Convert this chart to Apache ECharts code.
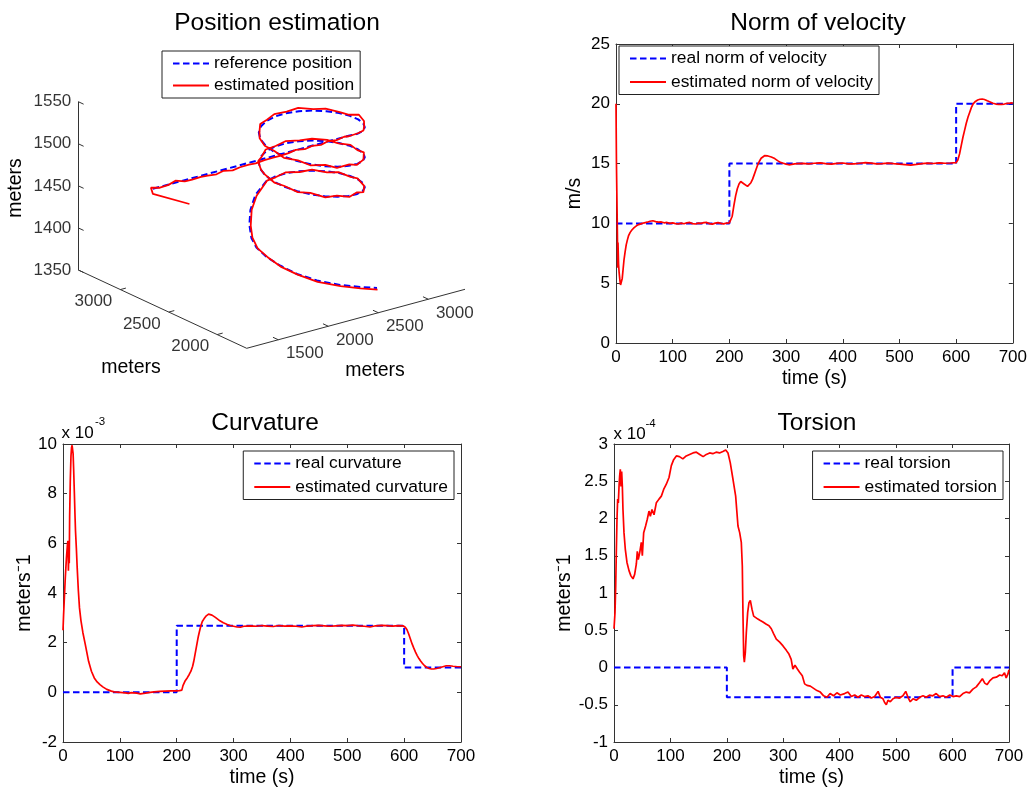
<!DOCTYPE html>
<html><head><meta charset="utf-8">
<script src="https://cdn.jsdelivr.net/npm/echarts@6/dist/echarts.min.js"></script>
<style>html,body{margin:0;padding:0;background:#fff}#c{width:1030px;height:789px}</style>
</head><body><div id="c"></div>
<script>
// ---------------- DATA ----------------
// 3D trajectory (x, y, z in meters)
const refPosition = [
 [1026,2501,1501.6],[2984,2501,1501.6],
 [3082.6,2514,1500.1],[3174.5,2552,1498.6],[3253.4,2612.6,1497.1],[3314,2691.5,1495.6],[3352,2783.4,1494.2],
 [3365,2882,1492.7],[3352,2980.6,1491.2],[3314,3072.5,1489.7],[3253.4,3151.4,1488.2],[3174.5,3212,1486.7],[3082.6,3250,1485.2],
 [2984,3263,1483.8],[2885.4,3250,1482.3],[2793.5,3212,1480.8],[2714.6,3151.4,1479.3],[2654,3072.5,1477.8],[2616,2980.6,1476.3],
 [2603,2882,1474.8],[2616,2783.4,1473.4],[2654,2691.5,1471.9],[2714.6,2612.6,1470.4],[2793.5,2552,1468.9],[2885.4,2514,1467.4],
 [2984,2501,1465.9],[3082.6,2514,1464.4],[3174.5,2552,1462.9],[3253.4,2612.6,1461.5],[3314,2691.5,1460.0],[3352,2783.4,1458.5],
 [3365,2882,1457.0],[3352,2980.6,1455.5],[3314,3072.5,1454.0],[3253.4,3151.4,1452.5],[3174.5,3212,1451.0],[3082.6,3250,1449.6],
 [2984,3263,1448.1],[2885.4,3250,1446.6],[2793.5,3212,1445.1],[2714.6,3151.4,1443.6],[2654,3072.5,1442.1],[2616,2980.6,1440.6],
 [2603,2882,1439.1],[2616,2783.4,1437.7],[2654,2691.5,1436.2],[2714.6,2612.6,1434.7],[2793.5,2552,1433.2],[2885.4,2514,1431.7],
 [2984,2501,1430.2],[3082.6,2514,1428.7],[3174.5,2552,1427.2],[3253.4,2612.6,1425.8],[3314,2691.5,1424.3],[3352,2783.4,1422.8],
 [3365,2882,1421.3],[3352,2980.6,1419.8],[3314,3072.5,1418.3],[3253.4,3151.4,1416.8],[3174.5,3212,1415.3],[3082.6,3250,1413.9],
 [2984,3263,1412.4],[2885.4,3250,1410.9],
 [2658.3,3128.7,1408.2],[2453.7,2968.8,1405.5],[2274.2,2793.5,1402.8],[2141.0,2635.1,1400.1],[2074.3,2514.4,1397.4],[2039.3,2374.7,1394.7],
 [2040.1,2236.0,1392.0],[2063.0,2083.8,1389.3],[2132.1,1948.4,1386.6],[2247.2,1829.7,1383.9],[2377.6,1757.7,1381.2],[2502.4,1711.0,1378.5]
];
const estPosition = [
 [1125,2225.5,1495],[973,2446,1500],[1019,2514,1502.3],
 [1100,2505,1500.2],[1180,2498,1501.4],[1260,2510,1503.2],[1340,2496,1500.6],[1420,2503,1499.7],[1500,2494,1500.9],
 [1580,2506,1499.0],[1660,2499,1498.5],[1740,2508,1499.6],[1820,2497,1498.1],[1900,2504,1498.9],[1980,2495,1499.8],
 [2060,2507,1498.3],[2140,2500,1499.9],[2220,2493,1500.5],[2300,2505,1499.4],[2380,2498,1500.6],[2460,2507,1501.4],
 [2540,2496,1500.2],[2620,2503,1501.2],[2700,2495,1500.3],[2780,2505,1501.5],[2860,2498,1500.7],[2940,2503,1501.8],[2984,2499,1501.2],
 [3085,2510,1500.9],[3178,2549,1499.2],[3250,2616,1497.8],[3318,2688,1498.4],[3356,2780,1499.8],
 [3360,2885,1494.0],[3355,2977,1492.4],[3310,3076,1492.6],[3257,3148,1490.0],[3170,3215,1490.7],[3086,3247,1487.2],
 [2980,3266,1486.6],[2888,3246,1484.0],[2790,3215,1483.6],[2718,3148,1480.5],[2650,3076,1478.6],[2612,2984,1476.0],
 [2606,2878,1475.5],[2612,2786,1472.2],[2658,2688,1472.9],[2711,2616,1469.2],[2797,2549,1470.4],[2882,2517,1466.0],
 [2987,2498,1467.6],[3079,2517,1463.1],[3178,2549,1464.5],[3250,2616,1460.4],[3317,2688,1461.2],[3348,2787,1457.6],
 [3368,2879,1458.3],[3349,2984,1455.0],[3317,3069,1455.8],[3250,3155,1454.6],[3178,3209,1452.2],[3079,3253,1451.9],
 [2987,3260,1448.8],[2882,3253,1448.4],[2797,3209,1444.6],[2711,3155,1445.0],[2657,3069,1441.4],[2612,2984,1441.9],
 [2606,2879,1438.0],[2612,2787,1438.9],[2657,2688,1435.1],[2711,2616,1436.3],[2797,2549,1431.8],[2882,2517,1433.0],
 [2987,2498,1429.0],[3079,2517,1430.3],[3178,2549,1426.0],[3250,2616,1427.4],[3317,2688,1423.4],[3349,2787,1424.1],
 [3368,2879,1420.2],[3349,2984,1420.9],[3317,3069,1417.1],[3250,3155,1418.0],[3178,3209,1414.5],[3079,3253,1414.8],
 [2987,3260,1411.6],[2888,3246,1411.5],
 [2664,3122,1407.4],[2460,2962,1405.9],[2282,2788,1402.0],[2146,2630,1400.6],[2080,2508,1396.5],[2044,2370,1394.9],
 [2043,2232,1390.8],[2066,2080,1388.6],[2135,1945,1385.1],[2250,1827,1382.6],[2380,1755,1379.6],[2505,1708,1376.6]
];
const posXTicks = [1500, 2000, 2500, 3000];
const posYTicks = [2000, 2500, 3000];
const posZTicks = [1350, 1400, 1450, 1500, 1550];

// Norm of velocity (m/s)
const velReal = [[0,10],[200,10],[200,15],[600,15],[600,20],[700,20]];
const velEst = [
 [0,20],[0.8,15],[1.5,12.5],[2.5,9],[3,6.3],[3.5,8.4],[4.5,6.6],[5.5,5.9],[7,5.2],[8,4.85],[9,4.7],[10,4.85],
 [11,5.4],[12,5.9],[14,6.9],[16,7.6],[18,8.2],[20,8.6],[22,8.95],[25,9.25],[28,9.45],[32,9.65],[36,9.8],[40,9.9],
 [45,9.98],[50,10.05],[55,10.1],[60,10.18],[65,10.22],[70,10.15],[75,10.1],[80,10.12],[85,10.05],[90,10.08],[95,10.0],
 [100,10.04],[105,9.98],[110,9.95],[115,10.02],[120,9.97],[125,10.05],[130,10.08],[135,9.98],[140,9.95],[145,10.02],
 [150,10.0],[155,10.06],[160,10.08],[165,9.98],[170,9.94],[175,10.02],[180,10.06],[185,10.0],[190,9.96],[195,10.03],[200,10.05],
 [202,10.1],[205,10.6],[208,11.5],[211,12.3],[214,12.9],[217,13.3],[220,13.5],[223,13.45],[226,13.3],[229,13.15],[232,13.1],
 [235,13.2],[238,13.4],[241,13.7],[244,14.1],[247,14.5],[250,14.9],[253,15.2],[256,15.45],[259,15.6],[262,15.66],[265,15.68],
 [268,15.64],[271,15.58],[274,15.55],[277,15.5],[280,15.42],[285,15.25],[290,15.1],[295,15.03],[300,14.96],[305,14.9],
 [310,14.93],[315,14.97],[320,15.0],
 [330,15.02],[340,14.97],[350,15.03],[360,15.06],[370,15.0],[380,14.96],[390,15.02],[400,15.05],[410,14.98],[420,14.97],
 [430,15.03],[440,15.08],[450,15.04],[460,14.97],[470,15.0],[480,15.04],[490,14.99],[500,14.95],[510,14.92],[520,14.88],
 [530,14.93],[540,15.0],[550,15.04],[560,15.01],[570,15.06],[580,15.03],[590,15.05],[600,15.08],
 [603,15.3],[606,15.8],[609,16.5],[612,17.2],[615,17.8],[618,18.4],[621,18.9],[624,19.3],[627,19.7],[630,20.0],[634,20.2],
 [638,20.32],[642,20.38],[646,20.4],[650,20.36],[655,20.25],[660,20.15],[665,20.05],[670,19.98],[675,19.95],[680,19.95],
 [685,19.98],[690,20.03],[695,20.05],[700,20.08]
];

// Curvature (x 10^-3 1/m)
const curvReal = [[0,0],[200,0],[200,2.68],[600,2.68],[600,1.0],[700,1.0]];
const curvEst = [
 [0,2.5],[1,3.1],[2,3.6],[3,4.1],[4,4.6],[5,5.0],[6,5.4],[7,5.7],[8,6.0],[8.8,6.1],[9.5,4.9],[10.3,5.7],[11,5.2],
 [11.7,7.1],[12.8,8.5],[14,9.5],[15,9.85],[16,9.95],[17,9.9],[17.8,9.6],[18.7,9.0],[19.9,8.1],[21,7.2],[22,6.5],
 [23.5,5.8],[25,5.0],[27,4.1],[29,3.4],[31.5,2.9],[35,2.4],[39,1.95],[45,1.25],[50,0.85],[55,0.58],[60,0.42],[65,0.31],
 [70,0.22],[77,0.12],[85,0.05],[90,0.02],[100,0.0],[110,-0.02],[115,-0.04],[120,-0.01],[130,-0.03],[136,-0.06],[145,-0.03],
 [150,-0.01],[160,0.02],[170,0.04],[180,0.05],[190,0.06],[200,0.06],[205,0.07],[209,0.09],[211,0.27],[215,0.47],[219,0.6],
 [222,0.72],[225,0.85],[228,1.05],[230,1.25],[232,1.5],[234,1.75],[236,2.0],[238,2.25],[240,2.45],[242.5,2.68],[245,2.85],
 [248,2.96],[252,3.08],[256,3.15],[259,3.15],[262,3.11],[265,3.06],[268,3.02],[272,2.95],[276,2.88],[282,2.8],[288,2.74],
 [294,2.69],[300,2.66],[306,2.63],[312,2.62],[318,2.66],
 [330,2.68],[340,2.66],[350,2.69],[360,2.67],[370,2.65],[380,2.69],[390,2.67],[400,2.68],[410,2.66],[420,2.63],[430,2.67],
 [440,2.69],[450,2.7],[460,2.68],[470,2.66],[480,2.68],[490,2.7],[500,2.69],[510,2.71],[520,2.68],[530,2.66],[540,2.63],
 [550,2.68],[560,2.7],[570,2.69],[580,2.67],[590,2.69],
 [598,2.68],[600,2.67],[602,2.62],[605,2.52],[608,2.35],[611,2.15],[614,1.95],[617,1.78],[620,1.62],[623,1.48],[626,1.36],
 [629,1.26],[632,1.17],[636,1.07],[640,1.0],[644,0.96],[648,0.94],[652,0.94],[657,0.96],[662,0.99],[668,1.03],[674,1.07],
 [680,1.07],[686,1.05],[692,1.04],[700,1.03]
];

// Torsion (x 10^-4 1/m)
const torsReal = [[0,0],[200,0],[200,-0.4],[600,-0.4],[600,0],[700,0]];
const torsEst = [
 [0,0.52],[1.8,0.74],[3,1.09],[4.1,1.54],[5.3,1.99],[6.5,2.26],[7.7,2.21],[8.9,2.43],[10,2.57],[11.2,2.66],[12.4,2.43],
 [13.6,2.63],[14.8,2.43],[15.9,2.12],[17.7,1.81],[20,1.59],[23,1.41],[26.6,1.3],[30,1.23],[33.7,1.19],[36.6,1.25],[39.6,1.39],
 [41.3,1.56],[43,1.45],[45.5,1.54],[48.4,1.68],[50.2,1.5],[52.6,1.81],[56,1.9],[59,1.99],[62,2.1],[64.4,2.03],[67.3,2.12],
 [70.9,2.05],[75,2.21],[79.7,2.26],[83.9,2.3],[88,2.39],[92.7,2.46],[97.5,2.55],[101.6,2.71],[105.7,2.79],[110.5,2.84],
 [116,2.83],[122,2.8],[128,2.84],[134,2.86],[140,2.88],[146,2.89],[152,2.86],[158,2.83],[163.6,2.86],[169.5,2.88],[175,2.87],
 [181,2.89],[187,2.88],[193,2.9],[198,2.92],[202,2.88],[206,2.75],[211,2.52],[215.6,2.3],[219.7,1.9],[222.7,1.81],
 [225.6,1.68],[227.4,1.36],[228.6,0.69],[229.8,0.16],[231,0.07],[232.7,0.2],[234.5,0.47],[236.9,0.74],[239.2,0.87],
 [241.6,0.9],[244.6,0.78],[247.5,0.69],[251,0.67],[255,0.65],[259.3,0.63],[264,0.61],[270,0.58],[274.7,0.56],[278.8,0.52],
 [283,0.45],[287.6,0.38],[293.6,0.34],[299.5,0.29],[305.4,0.23],[310,0.18],[314,0.11],[317,-0.02],[320.7,0.03],[325,-0.02],
 [328.6,-0.06],[333.7,-0.11],[337.8,-0.22],[342,-0.24],[347.9,-0.25],[353.8,-0.28],[359.7,-0.31],[365.6,-0.33],[371.5,-0.38],
 [377.4,-0.4],[383,-0.35],[389,-0.38],[395,-0.34],[401,-0.37],[408.7,-0.35],[414.6,-0.33],[420.6,-0.39],[426.5,-0.37],
 [432.4,-0.4],[438.3,-0.37],[444,-0.39],[450,-0.38],[456,-0.41],[462,-0.39],[468,-0.32],[472,-0.4],[476.7,-0.42],
 [479.6,-0.47],[482.6,-0.5],[485.5,-0.44],[489.7,-0.46],[494.4,-0.42],[500,-0.4],[506,-0.41],[512,-0.38],[517,-0.32],
 [521,-0.4],[525,-0.46],[530,-0.42],[535.7,-0.44],[541.6,-0.4],[547.6,-0.38],[553.5,-0.4],[559,-0.37],[565,-0.38],
 [571,-0.35],[577,-0.39],[583,-0.38],[589,-0.4],[595,-0.37],[600.7,-0.39],[606.6,-0.38],[612.5,-0.39],[618.4,-0.35],
 [624.3,-0.33],[630,-0.34],[636,-0.29],[642,-0.26],[648,-0.2],[652.8,-0.15],[657,-0.21],[661,-0.23],[665.7,-0.18],
 [671.6,-0.14],[677.6,-0.13],[683.5,-0.1],[688,-0.11],[692,-0.07],[695,-0.14],[698,-0.09],[700,-0.03]
];

// ---------------- STYLE / LAYOUT ----------------
const FONT = "'Liberation Sans', Arial, Helvetica, sans-serif";
const AX = '#333';
const BLUE = '#0000ff', RED = '#ff0000';
const DASH = [6.5, 3.5];

// 3D box (data extents) and its on-screen placement (view)
const box = {xmin:1184, xmax:3367, ymin:1695, ymax:3435, zmin:1350, zmax:1550};
const view = {corner:[246.7,348.3], xEnd:[465,289.3], yEnd:[78.3,270], zLen:168.3};
function proj(p) {
  const fx = (p[0]-box.xmin)/(box.xmax-box.xmin);
  const fy = (p[1]-box.ymin)/(box.ymax-box.ymin);
  const fz = (p[2]-box.zmin)/(box.zmax-box.zmin);
  const c = view.corner;
  return [
    c[0] + fx*(view.xEnd[0]-c[0]) + fy*(view.yEnd[0]-c[0]),
    c[1] + fx*(view.xEnd[1]-c[1]) + fy*(view.yEnd[1]-c[1]) - fz*view.zLen
  ];
}
const TL = 55; // 3D tick length (m)
const axisSegs = [
  [[box.xmin,box.ymax,box.zmin],[box.xmin,box.ymax,box.zmax]],
  [[box.xmin,box.ymin,box.zmin],[box.xmin,box.ymax,box.zmin]],
  [[box.xmin,box.ymin,box.zmin],[box.xmax,box.ymin,box.zmin]]
];
const tickSegs = []
  .concat(posZTicks.map(z => [[box.xmin,box.ymax,z],[box.xmin,box.ymax-TL,z]]))
  .concat(posYTicks.map(y => [[box.xmin,y,box.zmin],[box.xmin+TL,y,box.zmin]]))
  .concat(posXTicks.map(x => [[x,box.ymin,box.zmin],[x,box.ymin+TL,box.zmin]]));

function mkX(grid, pos, showLabel, name) {
  return {type:'value', gridIndex:grid, position:pos, min:0, max:700, interval:100,
    axisLine:{show:true, onZero:false, lineStyle:{color:AX, width:1}},
    axisTick:{show:true, inside:true, length:4, lineStyle:{color:AX}},
    axisLabel:{show:showLabel, margin:6, fontSize:17, color:'#000', fontFamily:FONT},
    splitLine:{show:false},
    name: name || '', nameLocation:'middle', nameGap:26,
    nameTextStyle:{fontSize:19.5, color:'#000', fontFamily:FONT}};
}
function mkY(grid, pos, showLabel, min, max, interval, name, gap) {
  return {type:'value', gridIndex:grid, position:pos, min:min, max:max, interval:interval,
    axisLine:{show:true, onZero:false, lineStyle:{color:AX, width:1}},
    axisTick:{show:true, inside:true, length:4, lineStyle:{color:AX}},
    axisLabel:{show:showLabel, margin:6, fontSize:17, color:'#000', fontFamily:FONT},
    splitLine:{show:false},
    name: name || '', nameLocation:'middle', nameGap: gap || 30,
    nameTextStyle:{fontSize:19.5, color:'#000', fontFamily:FONT}};
}
const legendBase = {orient:'vertical', itemWidth:36, itemHeight:14, itemGap:6.5,
  padding:[4,6,4,10], borderColor:'#222', borderWidth:1, backgroundColor:'#fff',
  itemStyle:{color:'rgba(0,0,0,0)', borderWidth:0, opacity:0},
  textStyle:{fontSize:17.4, color:'#000', fontFamily:FONT}, selectedMode:false};
const titleStyle = {fontSize:24.5, fontWeight:'normal', color:'#000', fontFamily:FONT};
const labelStyle = {fontSize:17, color:'#000', fontFamily:FONT};

function lineSeries(name, data, xi, color, dashed, width, z) {
  return {name:name, type:'line', xAxisIndex:xi, yAxisIndex:xi, data:data,
    symbol:'none', showSymbol:false, z:z, animation:false,
    itemStyle:{color:color},
    lineStyle:{color:color, width:width, type: dashed ? DASH : 'solid'}};
}

const chart = echarts.init(document.getElementById('c'), null, {renderer:'canvas'});
const option = {
  animation:false,
  backgroundColor:'#fff',
  textStyle:{fontFamily:FONT},
  title:[
    {text:'Position estimation', left:272, top:6, textAlign:'center', textStyle:titleStyle},
    {text:'Norm of velocity', left:813, top:6, textAlign:'center', textStyle:titleStyle},
    {text:'Curvature', left:260, top:406, textAlign:'center', textStyle:titleStyle},
    {text:'Torsion', left:812, top:406, textAlign:'center', textStyle:titleStyle}
  ],
  legend:[
    Object.assign({}, legendBase, {left:162, top:51, itemGap:5, data:['reference position','estimated position']}),
    Object.assign({}, legendBase, {left:619, top:46, data:['real norm of velocity','estimated norm of velocity']}),
    Object.assign({}, legendBase, {right:576, top:451, data:['real curvature','estimated curvature']}),
    Object.assign({}, legendBase, {right:27, top:451, data:['real torsion','estimated torsion']})
  ],
  grid:[
    {left:0, top:0, width:1030, height:789},
    {left:616, top:44, width:398, height:299},
    {left:63, top:444, width:398, height:299},
    {left:614, top:444, width:395, height:299}
  ],
  xAxis:[
    {gridIndex:0, type:'value', min:0, max:1030, show:false},
    mkX(1,'bottom',true,'time (s)'), mkX(1,'top',false),
    mkX(2,'bottom',true,'time (s)'), mkX(2,'top',false),
    mkX(3,'bottom',true,'time (s)'), mkX(3,'top',false)
  ],
  yAxis:[
    {gridIndex:0, type:'value', min:0, max:789, inverse:true, show:false},
    mkY(1,'left',true,0,25,5,'m/s',31), mkY(1,'right',false,0,25,5),
    mkY(2,'left',true,-2,10,2,'meters\u207B1',28), mkY(2,'right',false,-2,10,2),
    mkY(3,'left',true,-1,3,0.5,'meters\u207B1',37), mkY(3,'right',false,-1,3,0.5)
  ],
  series:[
    // 3D panel (projected)
    {type:'lines', coordinateSystem:'cartesian2d', xAxisIndex:0, yAxisIndex:0, silent:true, z:1,
      data: axisSegs.map(s => ({coords: s.map(proj)})), lineStyle:{color:AX, width:1, opacity:1}},
    {type:'lines', coordinateSystem:'cartesian2d', xAxisIndex:0, yAxisIndex:0, silent:true, z:1,
      data: tickSegs.map(s => ({coords: s.map(proj)})), lineStyle:{color:AX, width:1, opacity:1}},
    {type:'scatter', xAxisIndex:0, yAxisIndex:0, silent:true, symbolSize:0,
      data: posZTicks.map(z => ({name:String(z), value: proj([box.xmin,box.ymax,z])})),
      label:Object.assign({show:true, position:'left', distance:7, formatter:'{b}'}, labelStyle)},
    {type:'scatter', xAxisIndex:0, yAxisIndex:0, silent:true, symbolSize:0,
      data: posYTicks.map(y => ({name:String(y), value: proj([box.xmin,y,box.zmin])})),
      label:Object.assign({show:true, position:'inside', offset:[-27,12], formatter:'{b}'}, labelStyle)},
    {type:'scatter', xAxisIndex:0, yAxisIndex:0, silent:true, symbolSize:0,
      data: posXTicks.map(x => ({name:String(x), value: proj([x,box.ymin,box.zmin])})),
      label:Object.assign({show:true, position:'inside', offset:[26.5,14], formatter:'{b}'}, labelStyle)},
    lineSeries('reference position', refPosition.map(proj), 0, BLUE, true, 2, 3),
    lineSeries('estimated position', estPosition.map(proj), 0, RED, false, 1.8, 4),
    // 2D panels
    lineSeries('real norm of velocity', velReal, 1, BLUE, true, 2, 3),
    lineSeries('estimated norm of velocity', velEst, 1, RED, false, 1.7, 4),
    lineSeries('real curvature', curvReal, 3, BLUE, true, 2, 3),
    lineSeries('estimated curvature', curvEst, 3, RED, false, 1.7, 4),
    lineSeries('real torsion', torsReal, 5, BLUE, true, 2, 3),
    lineSeries('estimated torsion', torsEst, 5, RED, false, 1.7, 4)
  ],
  graphic:[
    {type:'text', x:16, y:188, rotation:Math.PI/2, style:{text:'meters', font:'19.5px ' + FONT, fill:'#000', align:'center', verticalAlign:'middle'}},
    {type:'text', x:131, y:368, style:{text:'meters', font:'19.5px ' + FONT, fill:'#000', align:'center', verticalAlign:'middle'}},
    {type:'text', x:375, y:371, style:{text:'meters', font:'19.5px ' + FONT, fill:'#000', align:'center', verticalAlign:'middle'}},
    {type:'text', x:61.5, y:433, style:{text:'x 10', font:'17px ' + FONT, fill:'#000', align:'left', verticalAlign:'middle'}},
    {type:'text', x:95, y:422, style:{text:'-3', font:'11.5px ' + FONT, fill:'#000', align:'left', verticalAlign:'middle'}},
    {type:'text', x:613.5, y:434, style:{text:'x 10', font:'17px ' + FONT, fill:'#000', align:'left', verticalAlign:'middle'}},
    {type:'text', x:645.5, y:423.5, style:{text:'-4', font:'11.5px ' + FONT, fill:'#000', align:'left', verticalAlign:'middle'}}
  ]
};
chart.setOption(option);
</script></body></html>
